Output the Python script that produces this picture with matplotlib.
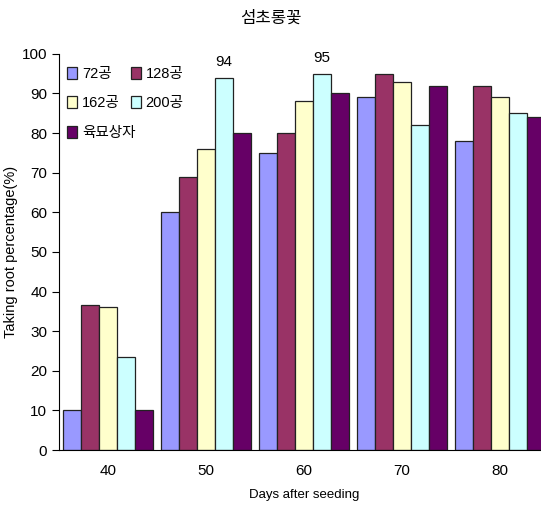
import matplotlib
matplotlib.use("Agg")
import matplotlib.pyplot as plt
import numpy as np
from matplotlib.patches import Patch

plt.rcParams['font.family'] = ['Liberation Sans', 'Noto Sans CJK KR', 'DejaVu Sans']

# Days after seeding and rooting rate (%) per tray type
days = ['40', '50', '60', '70', '80']
series = ['72공', '128공', '162공', '200공', '육묘상자']
values = {
    '72공':   [10, 60, 75, 89, 78],
    '128공':  [36.5, 69, 80, 95, 92],
    '162공':  [36, 76, 88, 93, 89],
    '200공':  [23.5, 94, 95, 82, 85],
    '육묘상자': [10, 80, 90, 92, 84],
}
colors = ['#9999FF', '#993366', '#FFFFCC', '#CCFFFF', '#660066']

fig = plt.figure(figsize=(5.41, 5.08), dpi=100)
ax = fig.add_axes([0.109, 0.114, 0.906, 0.78])

x = np.arange(len(days))
w = 0.184
for i, (name, c) in enumerate(zip(series, colors)):
    pos = x + (i - 2) * w
    ax.bar(pos, values[name], width=w, color=c,
           edgecolor='#222222', linewidth=0.9)

# value labels on the tallest 200공 bars
for idx in (1, 2):
    v = values['200공'][idx]
    ax.text(x[idx] + w, v + 2.2, f"{v:g}", ha='center', va='bottom', fontsize=11)

ax.set_xlim(-0.5, 4.5)
ax.set_ylim(0, 100)
ax.set_yticks(range(0, 101, 10))
ax.set_xticks(x)
ax.set_xticklabels(days)
ax.tick_params(axis='x', length=0, pad=10, labelsize=11)
ax.tick_params(axis='y', length=5, direction='out', labelsize=11)
for s in ('top', 'right'):
    ax.spines[s].set_visible(False)

ax.set_xlabel('Days after seeding', fontsize=9.5, labelpad=8)
ax.set_ylabel('Taking root percentage(%)', fontsize=10.5)
ax.yaxis.set_label_coords(-0.084, 0.5)
fig.suptitle('섬초롱꽃', x=0.5, y=0.98, fontsize=12)

# legend laid out row-wise in two columns
order = [0, 2, 4, 1, 3]
handles = [Patch(facecolor=colors[i], edgecolor='#222222', linewidth=0.9) for i in order]
labels = [series[i] for i in order]
ax.legend(handles, labels, ncol=2, loc='upper left', bbox_to_anchor=(-0.01, 1.0),
          frameon=False, fontsize=10.5, handlelength=0.7, handleheight=0.9,
          columnspacing=-0.3, handletextpad=0.3, labelspacing=1.05)

fig.savefig('out.png', dpi=100)
